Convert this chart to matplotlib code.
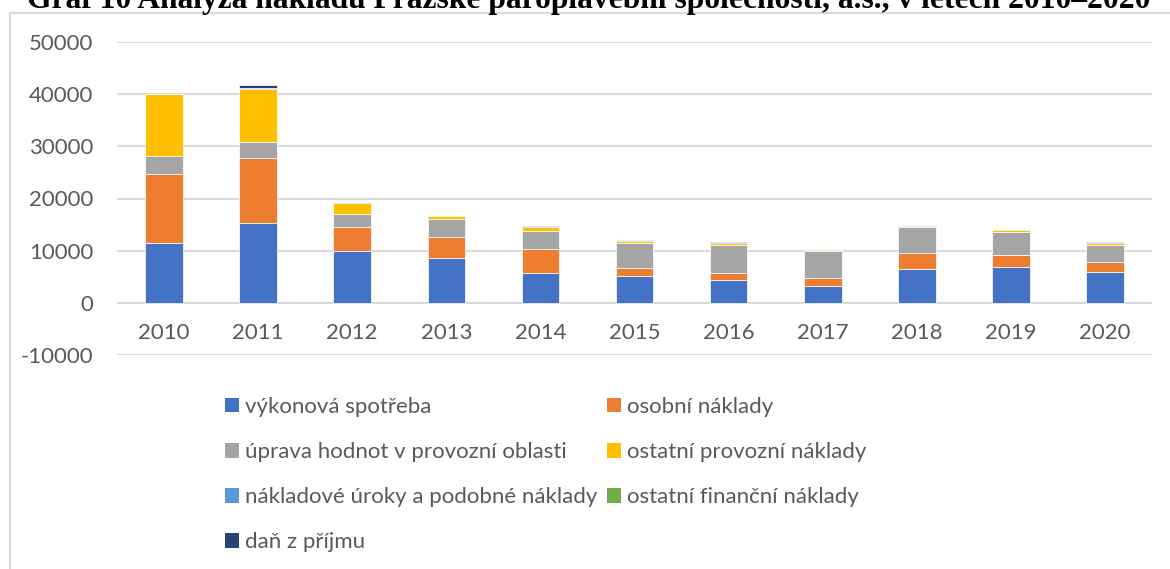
import numpy as np
import matplotlib.pyplot as plt
from matplotlib.patches import Rectangle, Patch

# data (tis. Kč)
years = ['2010', '2011', '2012', '2013', '2014', '2015', '2016', '2017', '2018', '2019', '2020']
vykonova = [11500, 15300, 9900, 8500, 5800, 5100, 4400, 3250, 6450, 6900, 5950]
osobni = [13200, 12500, 4600, 4100, 4450, 1500, 1400, 1600, 3050, 2300, 1900]
uprava = [3400, 3050, 2550, 3450, 3450, 4900, 5300, 5050, 5050, 4400, 3250]
ostatni_prov = [11850, 10200, 2150, 550, 750, 400, 300, 250, 250, 400, 300]
uroky = [50, 50, 120, 80, 80, 70, 60, 50, 40, 40, 60]
ostatni_fin = [100, 100, 0, 200, 50, 200, 60, 40, 40, 30, 40]
dan = [0, 500, 60, 50, 130, 40, 130, 100, 120, 130, 150]

series = [
    ('výkonová spotřeba', vykonova, '#4472C4'),
    ('osobní náklady', osobni, '#ED7D31'),
    ('úprava hodnot v provozní oblasti', uprava, '#A5A5A5'),
    ('ostatní provozní náklady', ostatni_prov, '#FFC000'),
    ('nákladové úroky a podobné náklady', uroky, '#5B9BD5'),
    ('ostatní finanční náklady', ostatni_fin, '#70AD47'),
    ('daň z příjmu', dan, '#264478'),
]

plt.rcParams['font.family'] = ['Lato', 'DejaVu Sans']
txt = '#595959'

fig = plt.figure(figsize=(11.7, 5.69), dpi=100)

# chart frame (cut off at right/bottom like the screenshot)
fig.patches.append(Rectangle((9.5 / 1170, -0.05), 1.2, 1 - 12.5 / 569 + 0.05,
                             transform=fig.transFigure, fill=False,
                             edgecolor='#D9D9D9', linewidth=1.5))

# cropped title
fig.text(589 / 1170, 1 - 8 / 569, 'Graf 10 Analýza nákladů Pražské paroplavební společnosti, a.s., v letech 2010–2020',
         ha='center', va='baseline', fontsize=22.7, fontweight='bold',
         family='Liberation Serif', color='black')

ax = fig.add_axes([117 / 1170, 1 - 355 / 569, (1152 - 117) / 1170, (355 - 42) / 569])
x = np.arange(len(years))
bottom = np.zeros(len(years))
handles = []
for name, vals, col in series:
    v = np.array(vals, dtype=float)
    ax.bar(x, v, 0.4, bottom=bottom, color=col, edgecolor='white', linewidth=0.5, zorder=3)
    bottom += v
    handles.append(Patch(facecolor=col, label=name))

ax.set_xlim(-0.5, len(years) - 0.5)
ax.set_ylim(-10000, 50000)
ax.set_yticks(np.arange(-10000, 50001, 10000))
ax.set_yticklabels([str(t) for t in range(-10000, 50001, 10000)])
ax.grid(axis='y', color='#D9D9D9', linewidth=1.5, zorder=0)
for s in ax.spines.values():
    s.set_visible(False)
ax.tick_params(axis='y', length=0, labelsize=16, labelcolor=txt, pad=17)
ax.set_xticks([])
for i, y in enumerate(years):
    ax.text(i, -5800, y, ha='center', va='center', fontsize=16, color=txt)

# legend in row order like Excel
order = [0, 2, 4, 6, 1, 3, 5]
leg = fig.legend([handles[i] for i in order], [series[i][0] for i in order],
                 ncol=2, loc='upper left', bbox_to_anchor=(225 / 1170, 1 - 397 / 569),
                 frameon=False, fontsize=16, labelcolor=txt,
                 handlelength=0.63, handleheight=0.63, handletextpad=0.27,
                 labelspacing=1.13, columnspacing=0.45, borderaxespad=0, borderpad=0)

fig.savefig('out.png', dpi=100)
